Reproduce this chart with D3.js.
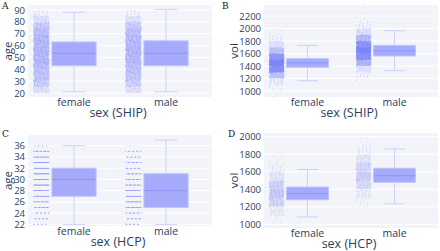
<!DOCTYPE html>
<html lang="en">
<head>
    <meta charset="UTF-8">
    <script src="https://d3js.org/d3.v7.min.js"></script>
    <style>
        body{ margin:0; background:white; }
        svg text{ font-family:"Open Sans", sans-serif; fill:#2a3f5f; }
        .letter{ font-family:"DejaVu Serif", "Liberation Serif", serif; fill:#111; font-size:9px; }
    </style>
    <title>Box plots</title>
</head>
<body>
    <svg width="440" height="251"></svg>
    <script>

        // categories
        const sexes = ["female", "male"];

        // A: SHIP age -- counts per 5 year bin (lower edges)
        const shipAgeBins = [20, 25, 30, 35, 40, 45, 50, 55, 60, 65, 70, 75, 80, 85];
        const shipAgeFemale = [60, 110, 140, 150, 170, 190, 190, 190, 190, 180, 160, 120, 60, 15];
        const shipAgeMale   = [55, 105, 135, 150, 165, 185, 190, 190, 185, 175, 155, 115, 55, 15];
        // box stats: lower whisker, q1, median, q3, upper whisker
        const shipAgeBoxFemale = [21, 43, 53.5, 63, 88];
        const shipAgeBoxMale   = [21, 43, 53.5, 64, 90.5];
        const shipAgeTicks = [20, 30, 40, 50, 60, 70, 80, 90];

        // B: SHIP vol -- counts per 100 bin
        const shipVolBins = [900, 1000, 1100, 1200, 1300, 1400, 1500, 1600, 1700, 1800, 1900, 2000, 2100, 2200, 2300];
        const shipVolFemale = [2, 5, 30, 150, 400, 500, 350, 150, 50, 15, 5, 0, 0, 0, 0];
        const shipVolMale   = [0, 0, 3, 10, 50, 200, 400, 500, 380, 180, 60, 15, 4, 1, 1];
        const shipVolBoxFemale = [1165, 1380, 1450, 1518, 1730];
        const shipVolBoxMale   = [1325, 1560, 1645, 1730, 1965];
        const shipVolTicks = [1000, 1200, 1400, 1600, 1800, 2000, 2200];

        // C: HCP age -- counts per year
        const hcpAges = [22, 23, 24, 25, 26, 27, 28, 29, 30, 31, 32, 33, 34, 35, 36, 37];
        const hcpAgeFemale = [15, 20, 25, 35, 40, 45, 50, 55, 55, 55, 50, 50, 45, 35, 10, 0];
        const hcpAgeMale   = [20, 25, 30, 40, 45, 45, 45, 40, 40, 35, 30, 30, 25, 20, 5, 1];
        const hcpAgeBoxFemale = [22, 27, 30, 32, 36];
        const hcpAgeBoxMale   = [22, 25, 28, 31, 37];
        const hcpAgeTicks = [22, 24, 26, 28, 30, 32, 34, 36];

        // D: HCP vol -- counts per 100 bin
        const hcpVolBins = [1000, 1100, 1200, 1300, 1400, 1500, 1600, 1700, 1800, 1900];
        const hcpVolFemale = [5, 40, 130, 180, 140, 60, 20, 5, 0, 0];
        const hcpVolMale   = [0, 0, 10, 40, 110, 150, 120, 60, 20, 4];
        const hcpVolBoxFemale = [1085, 1280, 1350, 1425, 1625];
        const hcpVolBoxMale   = [1235, 1480, 1555, 1640, 1860];
        const hcpVolTicks = [1000, 1200, 1400, 1600, 1800, 2000];

        const svg = d3.select("svg");

        const panels = [
            { letter:"A", lx:2, ly:9, x0:28, x1:212, y0:5, y1:97, domain:[16.6, 94.2], ytitle:"age", xtitle:"sex (SHIP)", ytx:12,
              bins:shipAgeBins, bw:5, counts:[shipAgeFemale, shipAgeMale], boxes:[shipAgeBoxFemale, shipAgeBoxMale], ticks:shipAgeTicks },
            { letter:"B", lx:222, ly:9, x0:264, x1:438, y0:5, y1:97, domain:[904, 2376], ytitle:"vol", xtitle:"sex (SHIP)", ytx:238,
              bins:shipVolBins, bw:100, counts:[shipVolFemale, shipVolMale], boxes:[shipVolBoxFemale, shipVolBoxMale], ticks:shipVolTicks },
            { letter:"C", lx:2, ly:137, x0:28, x1:212, y0:135, y1:226, domain:[21.7, 37.9], ytitle:"age", xtitle:"sex (HCP)", ytx:12,
              bins:hcpAges, bw:0, counts:[hcpAgeFemale, hcpAgeMale], boxes:[hcpAgeBoxFemale, hcpAgeBoxMale], ticks:hcpAgeTicks },
            { letter:"D", lx:228, ly:137, x0:264, x1:438, y0:133, y1:228, domain:[958, 2042], ytitle:"vol", xtitle:"sex (HCP)", ytx:238,
              bins:hcpVolBins, bw:100, counts:[hcpVolFemale, hcpVolMale], boxes:[hcpVolBoxFemale, hcpVolBoxMale], ticks:hcpVolTicks }
        ];

        panels.forEach(p => {
            const g = svg.append("g");
            const xScale = d3.scaleBand().domain(sexes).range([p.x0, p.x1]).padding(0);
            const yScale = d3.scaleLinear().domain(p.domain).range([p.y1, p.y0]);
            const slot = xScale.bandwidth();

            // background
            g.append("rect")
                .attr("x", p.x0).attr("y", p.y0)
                .attr("width", p.x1 - p.x0).attr("height", p.y1 - p.y0)
                .attr("fill", "#f3f4f9");

            // grid lines
            g.selectAll(".grid").data(p.ticks).enter().append("line")
                .attr("x1", p.x0).attr("x2", p.x1)
                .attr("y1", d => yScale(d)).attr("y2", d => yScale(d))
                .attr("stroke", "white").attr("stroke-width", 1);

            // y axis
            const yAxis = g.append("g")
                .attr("transform", `translate(${p.x0 - 3},0)`)
                .call(d3.axisLeft(yScale).tickValues(p.ticks).tickFormat(d3.format("d")).tickSize(0).tickPadding(0));
            yAxis.select(".domain").remove();
            yAxis.selectAll("text").style("font-size", "9.5px").attr("fill", "#2a3f5f");

            // x axis
            const xAxis = g.append("g")
                .attr("transform", `translate(0,${p.y1 + 2})`)
                .call(d3.axisBottom(xScale).tickSize(0).tickPadding(0));
            xAxis.select(".domain").remove();
            xAxis.selectAll("text").style("font-size", "10.5px").attr("fill", "#2a3f5f");

            // titles
            g.append("text")
                .attr("x", (p.x0 + p.x1) / 2 - 2)
                .attr("y", p.y1 + 20)
                .attr("text-anchor", "middle")
                .style("font-size", "12.5px")
                .text(p.xtitle);
            g.append("text")
                .attr("transform", `translate(${p.ytx},${(p.y0 + p.y1) / 2}) rotate(-90)`)
                .attr("text-anchor", "middle")
                .style("font-size", "11.5px")
                .text(p.ytitle);

            g.append("text").attr("class", "letter")
                .attr("x", p.lx).attr("y", p.ly)
                .text(p.letter);

            sexes.forEach((s, si) => {
                const cx = xScale(s) + slot / 2;

                // jittered points, laid out with a low discrepancy sequence
                const pts = [];
                let k = 0;
                p.counts[si].forEach((n, bi) => {
                    for (let i = 0; i < n; i++) {
                        const fx = (0.5 + k * 0.7548776662) % 1;
                        const fy = (0.5 + k * 0.5698402910) % 1;
                        const v = p.bw ? p.bins[bi] + fy * p.bw : p.bins[bi];
                        pts.push({ fx: fx, v: v });
                        k++;
                    }
                });
                g.selectAll(null).data(pts).enter().append("circle")
                    .attr("cx", d => cx - 0.44 * slot + d.fx * 0.17 * slot)
                    .attr("cy", d => yScale(d.v))
                    .attr("r", 0.5)
                    .attr("fill", "#636efa")
                    .attr("opacity", 0.35);

                // box
                const b = p.boxes[si];
                const bw = 0.48 * slot;
                g.append("line")
                    .attr("x1", cx).attr("x2", cx)
                    .attr("y1", yScale(b[0])).attr("y2", yScale(b[4]))
                    .attr("stroke", "#cdd0fb").attr("stroke-width", 1);
                [b[0], b[4]].forEach(w => {
                    g.append("line")
                        .attr("x1", cx - bw / 4).attr("x2", cx + bw / 4)
                        .attr("y1", yScale(w)).attr("y2", yScale(w))
                        .attr("stroke", "#cdd0fb").attr("stroke-width", 1);
                });
                g.append("rect")
                    .attr("x", cx - bw / 2).attr("y", yScale(b[3]))
                    .attr("width", bw).attr("height", yScale(b[1]) - yScale(b[3]))
                    .attr("fill", "#a5abfa")
                    .attr("stroke", "#bfc3fb").attr("stroke-width", 1);
                g.append("line")
                    .attr("x1", cx - bw / 2).attr("x2", cx + bw / 2)
                    .attr("y1", yScale(b[2])).attr("y2", yScale(b[2]))
                    .attr("stroke", "#8e95f8").attr("stroke-width", 1);
            });
        });

    </script>
</body>
</html>
